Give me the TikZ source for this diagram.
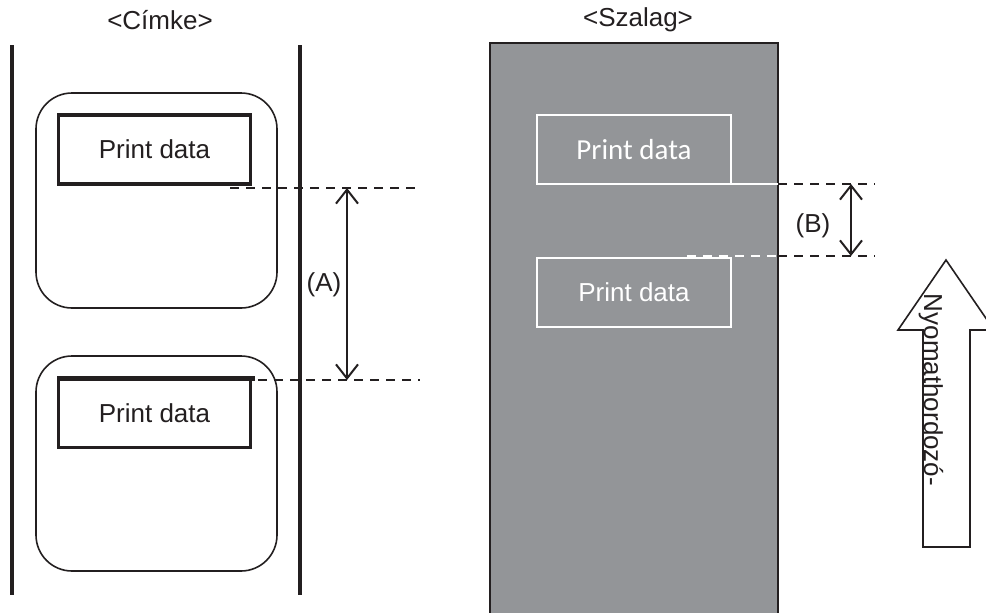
\documentclass[tikz,border=0pt]{standalone}
\usepackage{fontspec}
\setmainfont{Liberation Sans}
\newfontfamily\calib{Carlito}
\usetikzlibrary{arrows.meta}
\definecolor{ribbon}{HTML}{939598}
\definecolor{ink}{HTML}{231F20}
\begin{document}
\begin{tikzpicture}[x=1pt,y=-1pt,
  lbl/.style={font=\fontsize{26}{30}\selectfont, text=ink, inner sep=0pt},
  rail/.style={ink, line width=3.5pt},
  card/.style={draw=ink, line width=1.6pt, rounded corners=36pt, minimum width=241pt, minimum height=215pt, inner sep=0pt, outer sep=0pt},
  pbox/.style={draw=ink, line width=3.5pt, minimum width=192pt, minimum height=69pt, inner sep=0pt, outer sep=0pt, font=\fontsize{26}{30}\selectfont, text=ink},
  wbox/.style={draw=white, line width=2.8pt, minimum width=194pt, minimum height=69pt, inner sep=0pt, outer sep=0pt, text=white},
  dimdash/.style={ink, line width=2pt, dash pattern=on 9pt off 7pt},
  wdash/.style={white, line width=2pt, dash pattern=on 9pt off 7pt},
  dimarrow/.style={ink, line width=2pt, {Straight Barb[length=14pt,width=22pt,line width=2pt]}-{Straight Barb[length=14pt,width=22pt,line width=2pt]}},
  bigarrow/.style={draw=ink, line width=1.6pt, fill=white, line join=miter}
]
\clip (0,0) rectangle (986,613);
\fill[white] (0,0) rectangle (986,613);

% ---------- left: label ----------
\node[lbl] (t1) at (160,20) {<Címke>};
\draw[rail] (12,45) -- (12,595);
\draw[rail] (300,45) -- (300,595);

\node[card] (c1) at (156.5,200.5) {};
\node[card] (c2) at (156.5,463.5) {};
\node[pbox] (p1) at (154.5,149.5) {Print data};
\node[pbox] (p2) at (154.5,413) {Print data};
\draw[ink, line width=5.5pt] (p2.north west) ++(-1.5,0) coordinate (p2a) -- ++(198,0) coordinate (p2b);

\coordinate (d1s) at (230,188);
\coordinate (d1e) at (420,188);
\coordinate (d2s) at (258,380);
\coordinate (d2e) at (420,380);
\draw[dimdash] (d1s) -- (d1e);
\draw[dimdash] (d2s) -- (d2e);
\coordinate (a1) at (347,188);
\coordinate (a2) at (347,380);
\draw[dimarrow] (a1) -- (a2);
\node[lbl] (la) at (324,285) {(A)};

% ---------- right: ribbon ----------
\node[lbl] (t2) at (638,20) {<Szalag>};
\draw[fill=ribbon, draw=ink, line width=1.2pt] (490,43) rectangle (778,630);
\node[wbox, font=\calib\fontsize{29}{34}\selectfont] (r1) at (634,149.5) {Print data};
\node[wbox, font=\fontsize{26}{30}\selectfont] (r2) at (634,292.5) {Print data};
\coordinate (e1) at (778,184);
\draw[white, line width=2.8pt] (r1.south east) -- (e1);
\coordinate (f1) at (875,184);
\draw[dimdash] (e1) -- (f1);
\coordinate (w2s) at (687,256);
\coordinate (e2) at (778,256);
\coordinate (f2) at (875,256);
\draw[wdash] (w2s) -- (e2);
\draw[dimdash] (e2) -- (f2);
\coordinate (b1) at (851,184);
\coordinate (b2) at (851,256);
\draw[dimarrow] (b1) -- (b2);
\node[lbl] (lb) at (813,226) {(B)};

% ---------- feed direction arrow ----------
\draw[bigarrow] (923,547) -- (923,330) -- (898,330) -- (946,260) -- (994,330) -- (970,330) -- (970,547) -- cycle;
\node[lbl, rotate=-90] (dir) at (931,390) {Nyomathordozó-};
\end{tikzpicture}
\end{document}
